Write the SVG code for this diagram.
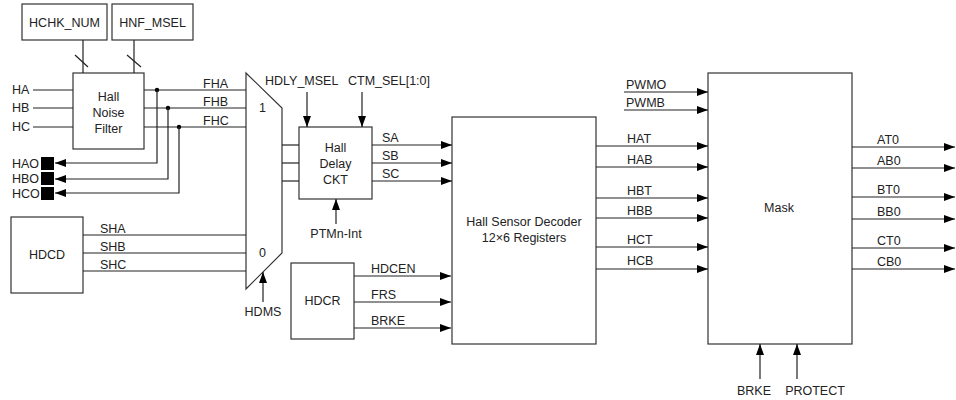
<svg xmlns="http://www.w3.org/2000/svg" width="956" height="400" viewBox="0 0 956 400">
<defs>
<marker id="ar" markerWidth="12" markerHeight="8" refX="11" refY="4" orient="auto" markerUnits="userSpaceOnUse">
<path d="M0,0 L11,4 L0,8 Z" fill="#000"/>
</marker>
</defs>
<style>
.box{fill:#fff;stroke:#333;stroke-width:1.2}
.ln{fill:none;stroke:#222;stroke-width:1.2}
.a{fill:none;stroke:#222;stroke-width:1.2;marker-end:url(#ar)}
text{font-family:"Liberation Sans",Arial,sans-serif;font-size:12.5px;fill:#222}
.m{text-anchor:middle}
</style>
<rect width="956" height="400" fill="#fff"/>

<g id="hchk_num"><rect class="box" x="22" y="4" width="85" height="36"/><text class="m" x="64.5" y="27">HCHK_NUM</text></g>
<g id="hnf_msel"><rect class="box" x="112" y="4" width="81" height="36"/><text class="m" x="152.5" y="27">HNF_MSEL</text></g>
<g id="hnf"><rect class="box" x="73" y="73" width="71" height="76"/><text class="m" x="108.5" y="101">Hall</text><text class="m" x="108.5" y="117">Noise</text><text class="m" x="108.5" y="133">Filter</text></g>
<g id="hall_in"><text x="12" y="94">HA</text><text x="12" y="112">HB</text><text x="12" y="131">HC</text></g>
<g id="hall_out">
<rect x="41" y="157" width="13" height="13" fill="#000"/><rect x="41" y="172" width="13" height="13" fill="#000"/><rect x="41" y="187" width="13" height="13" fill="#000"/>
<text x="12" y="168">HAO</text><text x="12" y="183">HBO</text><text x="12" y="198">HCO</text>
</g>
<g id="mux"><path class="box" d="M246,73 L282,108 L282,253 L246,289 Z"/><text x="259" y="112">1</text><text x="259" y="257">0</text></g>
<g id="hdcd"><rect class="box" x="11" y="217" width="72" height="76"/><text class="m" x="47" y="259">HDCD</text></g>
<g id="delay"><rect class="box" x="299" y="127" width="73" height="72"/><text class="m" x="335.5" y="152">Hall</text><text class="m" x="335.5" y="168">Delay</text><text class="m" x="335.5" y="184">CKT</text></g>
<g id="hdcr"><rect class="box" x="291" y="263" width="63" height="76"/><text class="m" x="322.5" y="305">HDCR</text></g>
<g id="decoder"><rect class="box" x="452" y="117" width="144" height="227"/><text class="m" x="524" y="226">Hall Sensor Decoder</text><text class="m" x="524" y="242">12×6 Registers</text></g>
<g id="mask"><rect class="box" x="708" y="73" width="144" height="271"/><text class="m" x="779" y="212">Mask</text></g>

<g id="connectors">
<line class="ln" x1="83" y1="40" x2="83" y2="73"/><line class="ln" x1="75" y1="55" x2="88" y2="67"/>
<line class="ln" x1="134" y1="40" x2="134" y2="73"/><line class="ln" x1="127" y1="55" x2="141" y2="67"/>
<line class="ln" x1="33" y1="90" x2="73" y2="90"/><line class="ln" x1="33" y1="108" x2="73" y2="108"/><line class="ln" x1="33" y1="127" x2="73" y2="127"/>
<line class="ln" x1="144" y1="90" x2="246" y2="90"/><line class="ln" x1="144" y1="108" x2="246" y2="108"/><line class="ln" x1="144" y1="127" x2="246" y2="127"/>
<circle cx="157" cy="90" r="2.2" fill="#000"/><circle cx="168" cy="108" r="2.2" fill="#000"/><circle cx="179" cy="127" r="2.2" fill="#000"/>
<polyline class="a" points="157,90 157,163 55,163"/>
<polyline class="a" points="168,108 168,179 55,179"/>
<polyline class="a" points="179,127 179,193 55,193"/>
<text x="203" y="88">FHA</text><text x="203" y="106">FHB</text><text x="203" y="125">FHC</text>
<line class="ln" x1="83" y1="235" x2="246" y2="235"/><line class="ln" x1="83" y1="253" x2="246" y2="253"/><line class="ln" x1="83" y1="271" x2="246" y2="271"/>
<text x="100" y="233">SHA</text><text x="100" y="251">SHB</text><text x="100" y="269">SHC</text>
<line class="a" x1="263" y1="302" x2="263" y2="272"/><text class="m" x="263" y="316">HDMS</text>
<line class="ln" x1="282" y1="145" x2="299" y2="145"/><line class="ln" x1="282" y1="163" x2="299" y2="163"/><line class="ln" x1="282" y1="181" x2="299" y2="181"/>
<line class="a" x1="307" y1="92" x2="307" y2="127"/><text x="265" y="85">HDLY_MSEL</text>
<line class="a" x1="362" y1="92" x2="362" y2="127"/><text x="348" y="85">CTM_SEL[1:0]</text>
<line class="a" x1="336" y1="224" x2="336" y2="199"/><text class="m" x="336" y="238">PTMn-Int</text>
<line class="a" x1="372" y1="145" x2="452" y2="145"/><line class="a" x1="372" y1="163" x2="452" y2="163"/><line class="a" x1="372" y1="181" x2="452" y2="181"/>
<text x="382" y="142">SA</text><text x="382" y="160">SB</text><text x="382" y="178">SC</text>
<line class="a" x1="354" y1="276" x2="451" y2="276"/><line class="a" x1="354" y1="302" x2="451" y2="302"/><line class="a" x1="354" y1="328" x2="451" y2="328"/>
<text x="371" y="273">HDCEN</text><text x="371" y="299">FRS</text><text x="371" y="325">BRKE</text>
<line class="a" x1="624" y1="92" x2="708" y2="92"/><line class="a" x1="624" y1="110" x2="708" y2="110"/>
<text x="626" y="89">PWMO</text><text x="626" y="107">PWMB</text>
<line class="a" x1="596" y1="146" x2="708" y2="146"/><line class="a" x1="596" y1="167" x2="708" y2="167"/>
<line class="a" x1="596" y1="198" x2="708" y2="198"/><line class="a" x1="596" y1="218" x2="708" y2="218"/>
<line class="a" x1="596" y1="247" x2="708" y2="247"/><line class="a" x1="596" y1="269" x2="708" y2="269"/>
<text x="627" y="143">HAT</text><text x="627" y="164">HAB</text><text x="627" y="195">HBT</text><text x="627" y="215">HBB</text><text x="627" y="244">HCT</text><text x="627" y="265">HCB</text>
<line class="a" x1="852" y1="147" x2="955" y2="147"/><line class="a" x1="852" y1="168" x2="955" y2="168"/>
<line class="a" x1="852" y1="197" x2="955" y2="197"/><line class="a" x1="852" y1="219" x2="955" y2="219"/>
<line class="a" x1="852" y1="248" x2="955" y2="248"/><line class="a" x1="852" y1="269" x2="955" y2="269"/>
<text x="877" y="144">AT0</text><text x="877" y="165">AB0</text><text x="877" y="194">BT0</text><text x="877" y="216">BB0</text><text x="877" y="245">CT0</text><text x="877" y="266">CB0</text>
<line class="a" x1="760" y1="379" x2="760" y2="344"/><line class="a" x1="797" y1="379" x2="797" y2="344"/>
<text class="m" x="754" y="395">BRKE</text><text class="m" x="815" y="395">PROTECT</text>
</g>
</svg>
